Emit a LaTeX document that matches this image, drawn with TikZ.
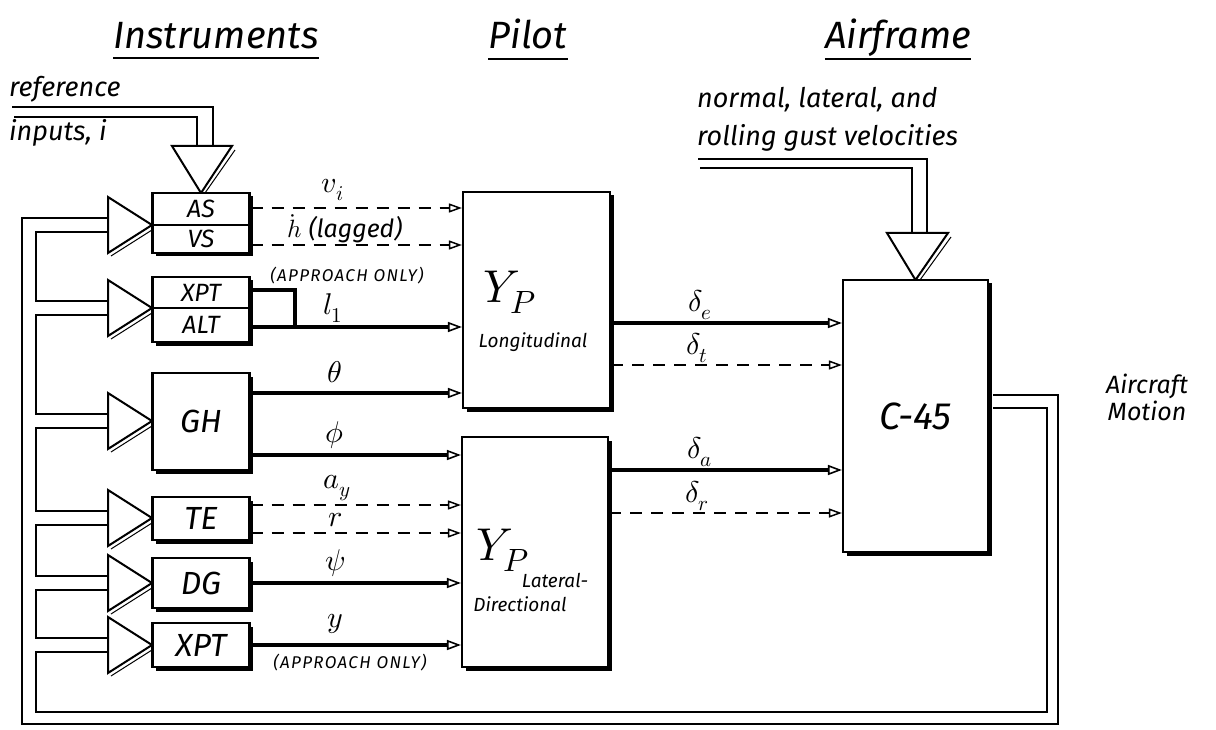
\documentclass[tikz,border=0pt]{standalone}
\usepackage{fontspec}
\usepackage{unicode-math}
\setmainfont{Fira Sans}
\usetikzlibrary{arrows.meta,shadows}
\newcommand\instarrow[1]{%
  \draw[tri] (108,#1-28) -- (152,#1) -- (108,#1+28) -- cycle;
  \draw[line width=1pt] (111,#1+31) -- (152,#1+5);}
\begin{document}
\begin{tikzpicture}[x=1pt,y=-1pt,
  box/.style={draw, line width=2.2pt, fill=white, inner sep=0pt,
    drop shadow={shadow xshift=3.5pt, shadow yshift=-3.5pt, fill=black, opacity=1}},
  ibox/.style={box, minimum width=97pt},
  f22/.style={font=\fontsize{25}{27}\selectfont\itshape},
  f30/.style={font=\fontsize{32}{34}\selectfont\itshape},
  title/.style={font=\fontsize{38}{40}\selectfont\itshape, anchor=base, inner sep=0pt},
  uline/.style={line width=2.4pt},
  note/.style={font=\fontsize{27}{29}\selectfont\itshape, anchor=west, inner sep=0pt},
  small/.style={font=\fontsize{17}{19}\selectfont\itshape\addfontfeatures{LetterSpace=8}, inner sep=0pt},
  sym/.style={font=\fontsize{30}{32}\selectfont, inner sep=0pt},
  sub/.style={font=\fontsize{19}{21}\selectfont\itshape, inner sep=0pt},
  sig/.style={line width=3.2pt, -{Triangle[open,length=14pt,width=10pt,line width=1.6pt]}},
  dsig/.style={line width=2.2pt, dash pattern=on 12pt off 9pt, -{Triangle[open,length=13pt,width=9pt,line width=1.5pt]}},
  bus/.style={line width=2pt},
  tri/.style={draw, line width=2pt, fill=white, line join=miter}
]
\useasboundingbox (0,0) rectangle (1216,730);

% ---------- titles ----------
\node[title] (tInstr) at (216,49) {Instruments};
\draw[uline] ([yshift=-9pt]tInstr.base west) -- ([yshift=-9pt]tInstr.base east);
\node[title] (tPilot) at (528,49) {Pilot};
\draw[uline] ([yshift=-10pt]tPilot.base west) -- ([yshift=-10pt]tPilot.base east);
\node[title] (tAir) at (898,49) {Airframe};
\draw[uline] ([yshift=-10pt]tAir.base west) -- ([yshift=-10pt]tAir.base east);

% ---------- reference inputs ----------
\node[note] (tRef) at (9,89) {reference};
\node[note] (tInp) at (9,133) {inputs, i};
\draw[bus] (12,107) -- (213,107) -- (213,148);
\draw[bus] (14,117) -- (197,117) -- (197,148);
\draw[tri] (172,146) -- (232,146) -- (201,193) -- cycle;
\draw[line width=1pt] (235,150) -- (205,193);

% ---------- gust inputs ----------
\node[note] (tGust1) at (697,100) {normal, lateral, and};
\node[note] (tGust2) at (697,138) {rolling gust velocities};
\draw[bus] (698,159) -- (927,159) -- (927,235);
\draw[bus] (700,168) -- (912,168) -- (912,235);
\draw[tri] (887,233) -- (948,233) -- (915.5,280) -- cycle;
\draw[line width=1pt] (951,237) -- (920,280);

% ---------- feedback bus ----------
\draw[bus] (993,395) -- (1058,395) -- (1058,724) -- (22,724) -- (22,218) -- (108,218);
\draw[bus] (993,408) -- (1047,408) -- (1047,712) -- (36,712) -- (36,652) -- (108,652);
\draw[bus] (108,232) -- (36,232) -- (36,301) -- (108,301);
\draw[bus] (108,315) -- (36,315) -- (36,414) -- (108,414);
\draw[bus] (108,428) -- (36,428) -- (36,511) -- (108,511);
\draw[bus] (108,525) -- (36,525) -- (36,576) -- (108,576);
\draw[bus] (108,590) -- (36,590) -- (36,638) -- (108,638);

\instarrow{225}
\instarrow{308}
\instarrow{421}
\instarrow{518}
\instarrow{583}
\instarrow{645}

% ---------- instrument boxes ----------
\node[ibox, minimum height=32pt, f22] (AS) at (201,209) {AS};
\node[ibox, minimum height=28pt, f22] (VS) at (201,239) {VS};
\node[ibox, minimum height=31pt, f22] (XPTa) at (201,292.5) {XPT};
\node[ibox, minimum height=34pt, f22] (ALT) at (201,325) {ALT};
\node[ibox, minimum height=97pt, f30] (GH) at (201,421.5) {GH};
\node[ibox, minimum height=43pt, f30] (TE) at (201,518.5) {TE};
\node[ibox, minimum height=50pt, f30] (DG) at (201,583) {DG};
\node[ibox, minimum height=44pt, f30] (XPTb) at (201,645) {XPT};

% ---------- pilot boxes ----------
\node[box, minimum width=147pt, minimum height=216pt] (LON) at (536.5,300) {};
\node[box, minimum width=146pt, minimum height=230pt] (LAT) at (535,552) {};
\node[font=\fontsize{46}{48}\selectfont, inner sep=0pt] (yLon) at (510,292) {$Y_P$};
\node[sub] (tLon) at (533,342) {Longitudinal};
\node[font=\fontsize{46}{48}\selectfont, inner sep=0pt] (yLat) at (503,550) {$Y_P$};
\node[sub] (tLat1) at (555,580) {Lateral-};
\node[sub] (tLat2) at (520,604) {Directional};

% ---------- airframe ----------
\node[box, minimum width=145pt, minimum height=272pt, font=\fontsize{38}{40}\selectfont\itshape] (C45) at (915.5,416) {C-45};
\node[font=\fontsize{25}{27}\selectfont\itshape, align=center, inner sep=0pt] (tMot) at (1147,397) {Aircraft\\Motion};

% ---------- instrument to pilot signals ----------
\draw[dsig] (AS.east |- 0,208) -- (LON.west |- 0,208);
\node[sym] (lv) at (333,190) {$v_i$};
\draw[dsig] (VS.east |- 0,245) -- (LON.west |- 0,245);
\node[font=\fontsize{25}{27}\selectfont\itshape, inner sep=0pt] (lh) at (345,229) {$\dot h$ (lagged)};
\node[small] (lap1) at (347,276) {(APPROACH ONLY)};
\draw[line width=3.2pt] (XPTa.east |- 0,290) -- (295,290) -- (295,327);
\draw[sig] (ALT.east |- 0,327) -- (LON.west |- 0,327);
\node[sym] (ll) at (333,308) {$l_1$};
\draw[sig] (GH.east |- 0,393) -- (LON.west |- 0,393);
\node[sym] (lth) at (335,372) {$\theta$};
\draw[sig] (GH.east |- 0,455) -- (LAT.west |- 0,455);
\node[sym] (lph) at (335,435) {$\phi$};
\draw[dsig] (TE.east |- 0,505) -- (LAT.west |- 0,505);
\node[sym] (lay) at (337,488) {$a_y$};
\draw[dsig] (TE.east |- 0,533) -- (LAT.west |- 0,533);
\node[sym] (lr) at (335,520) {$r$};
\draw[sig] (DG.east |- 0,583) -- (LAT.west |- 0,583);
\node[sym] (lps) at (335,563) {$\psi$};
\draw[sig] (XPTb.east |- 0,645) -- (LAT.west |- 0,645);
\node[sym] (ly) at (335,624) {$y$};
\node[small] (lap2) at (350,663) {(APPROACH ONLY)};

% ---------- pilot to airframe signals ----------
\draw[sig] (LON.east |- 0,323) -- (C45.west |- 0,323);
\node[sym] (lde) at (700,305) {$\delta_e$};
\draw[dsig] (LON.east |- 0,365) -- (C45.west |- 0,365);
\node[sym] (ldt) at (697,348) {$\delta_t$};
\draw[sig] (LAT.east |- 0,470) -- (C45.west |- 0,470);
\node[sym] (lda) at (700,452) {$\delta_a$};
\draw[dsig] (LAT.east |- 0,513) -- (C45.west |- 0,513);
\node[sym] (ldr) at (697,496) {$\delta_r$};
\end{tikzpicture}
\end{document}
